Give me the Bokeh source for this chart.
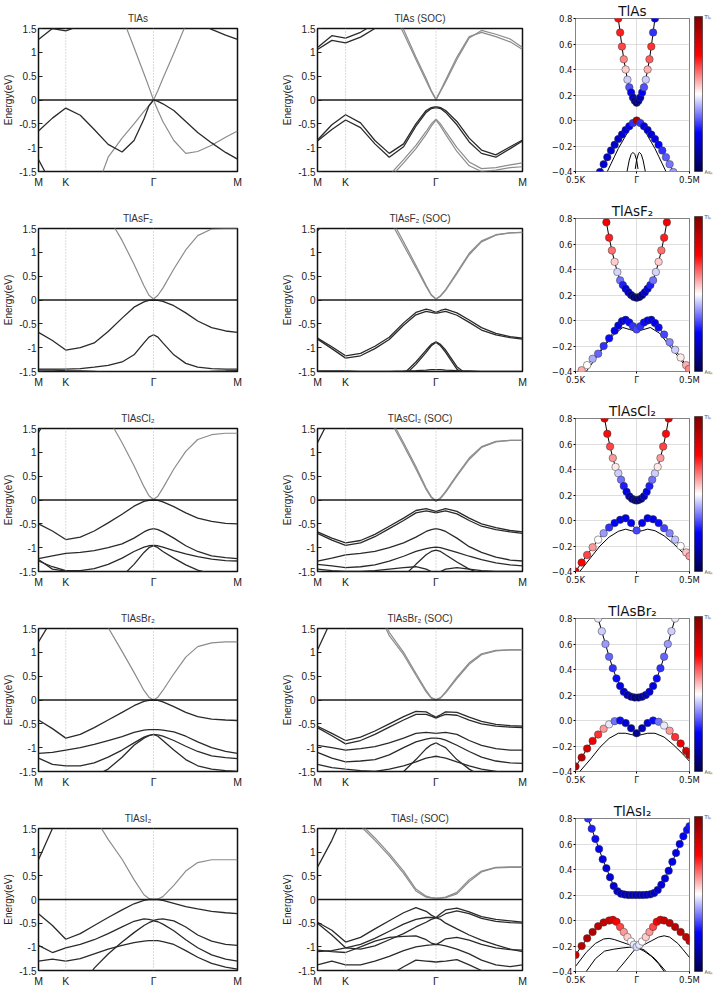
import numpy as np
from bokeh.plotting import figure
from bokeh.layouts import row, column
from bokeh.models import FixedTicker, Span, ColorBar, LinearColorMapper, ColumnDataSource, Range1d
from bokeh.embed import file_html
from bokeh.resources import INLINE

# ------------------------------------------------------------------ data
# k-path sample positions (M - K - Gamma - M), shared by band panels
KX = [0.0, 0.07, 0.137, 0.21, 0.28, 0.35, 0.42, 0.48, 0.53, 0.555, 0.578, 0.60, 0.625, 0.68, 0.74, 0.80, 0.87, 0.94, 1.0]
KPATH_POS = [0.0, 0.137, 0.578, 1.0]
KPATH_LABELS = ["M", "K", "Γ", "M"]
E_TICKS = [-1.5, -1.0, -0.5, 0.0, 0.5, 1.0, 1.5]
E_LABELS = ["-1.5", "-1", "-0.5", "0", "0.5", "1", "1.5"]

FAT_K_TICKS = [-0.667, 0.0, 0.577]
FAT_K_LABELS = ["0.5K", "Γ", "0.5M"]
FAT_E_TICKS = [-0.4, -0.2, 0.0, 0.2, 0.4, 0.6, 0.8]
FAT_E_LABELS = ["−0.4", "−0.2", "0.0", "0.2", "0.4", "0.6", "0.8"]

TITLES = ["TlAs", "TlAsF₂", "TlAsCl₂", "TlAsBr₂", "TlAsI₂"]
TITLES_SOC = ["TlAs (SOC)", "TlAsF₂ (SOC)", "TlAsCl₂ (SOC)", "TlAsBr₂ (SOC)", "TlAsI₂ (SOC)"]

# ---- TlAs (no SOC)
TLAS_GREY = [
    [-3.0, -3.0, -3.0, -3.0, -2.00, -1.20, -0.80, -0.50, -0.24, -0.12, 0.00, 0.20, 0.45, 0.98, 1.58, 2.20, 2.50, 2.50, 2.50],
    [2.50, 2.50, 2.50, 2.50, 2.50, 2.50, 1.75, 1.10, 0.55, 0.27, 0.00, -0.22, -0.45, -0.85, -1.12, -1.08, -0.95, -0.78, -0.65],
]
TLAS_DARK = [
    [-0.65, -0.38, -0.17, -0.32, -0.62, -0.93, -1.09, -0.85, -0.40, -0.12, 0.00, -0.03, -0.08, -0.22, -0.45, -0.68, -0.90, -1.10, -1.24],
    [1.27, 1.50, 1.45, 1.56, 1.75, 2.00, 2.20, 2.30, 2.40, 2.40, 2.40, 2.40, 2.40, 2.30, 2.00, 1.62, 1.48, 1.36, 1.27],
    [-1.25, -1.80, -2.50, -3.0, -3.0, -3.0, -3.0, -3.0, -3.0, -3.0, -3.0, -3.0, -3.0, -3.0, -3.0, -3.0, -3.0, -3.0, -3.0],
]
# ---- TlAs (SOC)
TLAS_SOC_GREY = [
    [3.0, 3.0, 3.0, 3.0, 3.0, 2.00, 1.40, 0.85, 0.40, 0.18, 0.00, 0.18, 0.38, 0.85, 1.30, 1.46, 1.38, 1.28, 1.10],
    [3.0, 3.0, 3.0, 3.0, 3.0, 2.10, 1.48, 0.90, 0.45, 0.20, 0.02, 0.20, 0.42, 0.90, 1.33, 1.42, 1.33, 1.22, 1.06],
    [-3.0, -3.0, -3.0, -3.0, -2.00, -1.58, -1.25, -0.95, -0.66, -0.50, -0.40, -0.50, -0.66, -1.00, -1.30, -1.44, -1.42, -1.36, -1.32],
    [-3.0, -3.0, -3.0, -3.0, -2.10, -1.65, -1.32, -1.02, -0.72, -0.55, -0.42, -0.55, -0.72, -1.08, -1.38, -1.50, -1.47, -1.42, -1.40],
]
TLAS_SOC_DARK = [
    [1.10, 1.35, 1.30, 1.42, 1.60, 2.00, 3.0, 3.0, 3.0, 3.0, 3.0, 3.0, 3.0, 3.0, 3.0, 3.0, 3.0, 3.0, 3.0],
    [1.06, 1.25, 1.20, 1.32, 1.50, 1.75, 2.20, 3.0, 3.0, 3.0, 3.0, 3.0, 3.0, 3.0, 3.0, 3.0, 3.0, 3.0, 3.0],
    [-0.84, -0.52, -0.31, -0.48, -0.85, -1.12, -0.92, -0.50, -0.22, -0.16, -0.14, -0.16, -0.22, -0.45, -0.80, -1.05, -1.15, -0.98, -0.84],
    [-0.86, -0.62, -0.42, -0.58, -0.92, -1.20, -0.98, -0.55, -0.26, -0.18, -0.16, -0.18, -0.26, -0.52, -0.88, -1.12, -1.20, -1.02, -0.86],
]
# ---- TlAsF2
TLASF2_GREY = [
    [3.0, 3.0, 3.0, 3.0, 2.20, 1.75, 1.25, 0.75, 0.30, 0.10, 0.02, 0.10, 0.25, 0.65, 1.05, 1.35, 1.49, 1.50, 1.50],
]
TLASF2_DARK = [
    [-0.68, -0.85, -1.05, -1.00, -0.90, -0.66, -0.38, -0.15, -0.04, -0.01, 0.00, -0.01, -0.03, -0.12, -0.27, -0.44, -0.58, -0.65, -0.68],
    [-1.45, -1.45, -1.45, -1.44, -1.41, -1.37, -1.30, -1.15, -0.90, -0.78, -0.73, -0.78, -0.90, -1.15, -1.33, -1.41, -1.44, -1.45, -1.45],
    [-1.47, -1.47, -1.48, -1.49, -1.50, -1.52, -1.55, -1.60, -1.62, -1.62, -1.62, -1.62, -1.62, -1.60, -1.55, -1.52, -1.50, -1.49, -1.48],
]
TLASF2_SOC_GREY = [
    [3.0, 3.0, 3.0, 3.0, 2.20, 1.70, 1.15, 0.68, 0.28, 0.10, 0.02, 0.08, 0.20, 0.55, 0.95, 1.22, 1.36, 1.41, 1.42],
    [3.0, 3.0, 3.0, 3.0, 2.30, 1.78, 1.22, 0.73, 0.31, 0.11, 0.02, 0.09, 0.22, 0.58, 0.98, 1.24, 1.37, 1.41, 1.42],
]
TLASF2_SOC_DARK = [
    [1.45, 1.80, 3.0, 3.0, 3.0, 3.0, 3.0, 3.0, 3.0, 3.0, 3.0, 3.0, 3.0, 3.0, 3.0, 3.0, 3.0, 3.0, 3.0],
    [-0.80, -0.98, -1.17, -1.12, -0.97, -0.78, -0.48, -0.26, -0.19, -0.22, -0.26, -0.22, -0.19, -0.27, -0.42, -0.58, -0.70, -0.77, -0.80],
    [-0.82, -1.02, -1.22, -1.17, -1.02, -0.83, -0.53, -0.31, -0.24, -0.26, -0.28, -0.26, -0.24, -0.32, -0.47, -0.63, -0.73, -0.79, -0.82],
    [-3.0, -3.0, -3.0, -3.0, -2.00, -1.80, -1.55, -1.30, -1.05, -0.93, -0.88, -0.93, -1.05, -1.40, -1.60, -1.70, -1.70, -1.70, -1.70],
    [-3.0, -3.0, -3.0, -3.0, -2.00, -1.80, -1.60, -1.35, -1.10, -0.96, -0.89, -0.96, -1.10, -1.45, -1.65, -1.70, -1.70, -1.70, -1.70],
    [-1.49, -1.49, -1.49, -1.50, -1.50, -1.50, -1.49, -1.48, -1.47, -1.46, -1.46, -1.46, -1.47, -1.48, -1.49, -1.50, -1.50, -1.50, -1.50],
]
# ---- TlAsCl2
TLASCL2_GREY = [
    [3.0, 3.0, 3.0, 3.0, 2.20, 1.72, 1.20, 0.72, 0.28, 0.09, 0.01, 0.08, 0.25, 0.65, 1.02, 1.27, 1.37, 1.40, 1.40],
]
TLASCL2_DARK = [
    [1.42, 1.90, 3.0, 3.0, 3.0, 3.0, 3.0, 3.0, 3.0, 3.0, 3.0, 3.0, 3.0, 3.0, 3.0, 3.0, 3.0, 3.0, 3.0],
    [-0.50, -0.65, -0.83, -0.78, -0.65, -0.48, -0.30, -0.13, -0.03, -0.01, 0.00, -0.01, -0.04, -0.14, -0.27, -0.38, -0.45, -0.49, -0.50],
    [-1.23, -1.17, -1.12, -1.10, -1.06, -1.00, -0.92, -0.80, -0.67, -0.62, -0.60, -0.62, -0.67, -0.80, -0.96, -1.08, -1.17, -1.21, -1.23],
    [-1.28, -1.40, -1.48, -1.48, -1.44, -1.35, -1.22, -1.08, -0.99, -0.96, -0.95, -0.96, -0.99, -1.06, -1.13, -1.19, -1.24, -1.27, -1.28],
    [-3.0, -3.0, -3.0, -3.0, -3.0, -2.20, -1.60, -1.35, -1.10, -1.00, -0.96, -1.00, -1.08, -1.22, -1.36, -1.47, -1.55, -1.60, -1.60],
    [-1.25, -1.45, -1.49, -1.50, -1.52, -1.60, -3.0, -3.0, -3.0, -3.0, -3.0, -3.0, -3.0, -3.0, -3.0, -3.0, -3.0, -3.0, -3.0],
]
TLASCL2_SOC_GREY = [
    [3.0, 3.0, 3.0, 3.0, 2.20, 1.70, 1.15, 0.65, 0.22, 0.05, -0.03, 0.03, 0.16, 0.50, 0.85, 1.10, 1.22, 1.25, 1.25],
    [3.0, 3.0, 3.0, 3.0, 2.30, 1.76, 1.20, 0.70, 0.25, 0.07, -0.02, 0.05, 0.18, 0.53, 0.88, 1.12, 1.23, 1.25, 1.25],
]
TLASCL2_SOC_DARK = [
    [1.20, 1.80, 3.0, 3.0, 3.0, 3.0, 3.0, 3.0, 3.0, 3.0, 3.0, 3.0, 3.0, 3.0, 3.0, 3.0, 3.0, 3.0, 3.0],
    [-0.67, -0.80, -0.90, -0.85, -0.72, -0.55, -0.38, -0.22, -0.18, -0.21, -0.24, -0.21, -0.18, -0.24, -0.38, -0.50, -0.58, -0.64, -0.67],
    [-0.70, -0.84, -0.95, -0.90, -0.77, -0.60, -0.43, -0.27, -0.23, -0.25, -0.27, -0.25, -0.23, -0.29, -0.43, -0.55, -0.62, -0.67, -0.70],
    [-1.28, -1.22, -1.15, -1.12, -1.08, -1.00, -0.90, -0.78, -0.66, -0.62, -0.60, -0.62, -0.66, -0.80, -0.98, -1.10, -1.20, -1.26, -1.28],
    [-1.35, -1.38, -1.42, -1.40, -1.36, -1.28, -1.18, -1.08, -1.02, -1.00, -0.99, -1.00, -1.03, -1.10, -1.18, -1.25, -1.32, -1.36, -1.38],
    [-3.0, -3.0, -3.0, -3.0, -3.0, -2.00, -1.60, -1.35, -1.15, -1.08, -1.05, -1.08, -1.15, -1.30, -1.45, -1.55, -1.60, -1.60, -1.60],
    [-1.45, -1.48, -1.50, -1.50, -1.48, -1.45, -1.42, -1.40, -1.45, -1.50, -1.55, -1.50, -1.45, -1.42, -1.45, -1.48, -1.50, -1.50, -1.50],
]
# ---- TlAsBr2
TLASBR2_GREY = [
    [3.0, 3.0, 3.0, 3.0, 2.00, 1.52, 1.02, 0.58, 0.20, 0.06, 0.00, 0.06, 0.20, 0.55, 0.90, 1.12, 1.20, 1.22, 1.22],
]
TLASBR2_DARK = [
    [1.22, 1.70, 3.0, 3.0, 3.0, 3.0, 3.0, 3.0, 3.0, 3.0, 3.0, 3.0, 3.0, 3.0, 3.0, 3.0, 3.0, 3.0, 3.0],
    [-0.42, -0.60, -0.80, -0.72, -0.58, -0.42, -0.26, -0.12, -0.03, -0.01, 0.00, -0.01, -0.04, -0.14, -0.26, -0.35, -0.40, -0.42, -0.43],
    [-1.12, -1.10, -1.05, -1.00, -0.93, -0.85, -0.77, -0.68, -0.63, -0.62, -0.62, -0.62, -0.63, -0.67, -0.76, -0.88, -1.00, -1.08, -1.12],
    [-1.22, -1.35, -1.38, -1.38, -1.32, -1.20, -1.05, -0.90, -0.78, -0.74, -0.72, -0.73, -0.76, -0.85, -0.97, -1.08, -1.17, -1.21, -1.23],
    [-3.0, -3.0, -3.0, -3.0, -1.60, -1.45, -1.20, -0.95, -0.80, -0.75, -0.72, -0.76, -0.85, -1.05, -1.25, -1.38, -1.45, -1.48, -1.50],
]
TLASBR2_SOC_GREY = [
    [3.0, 3.0, 3.0, 3.0, 2.00, 1.35, 0.95, 0.52, 0.17, 0.04, 0.00, 0.04, 0.15, 0.45, 0.75, 0.95, 1.03, 1.05, 1.05],
    [3.0, 3.0, 3.0, 3.0, 2.10, 1.42, 1.00, 0.56, 0.20, 0.05, 0.01, 0.05, 0.17, 0.48, 0.78, 0.97, 1.04, 1.05, 1.05],
]
TLASBR2_SOC_DARK = [
    [1.05, 1.70, 3.0, 3.0, 3.0, 3.0, 3.0, 3.0, 3.0, 3.0, 3.0, 3.0, 3.0, 3.0, 3.0, 3.0, 3.0, 3.0, 3.0],
    [-0.55, -0.70, -0.85, -0.78, -0.65, -0.50, -0.35, -0.24, -0.25, -0.31, -0.36, -0.31, -0.25, -0.26, -0.36, -0.45, -0.51, -0.54, -0.55],
    [-0.58, -0.75, -0.92, -0.85, -0.72, -0.57, -0.42, -0.30, -0.30, -0.34, -0.38, -0.34, -0.30, -0.32, -0.42, -0.50, -0.55, -0.57, -0.58],
    [-0.95, -1.00, -1.05, -1.02, -0.98, -0.90, -0.80, -0.70, -0.68, -0.69, -0.70, -0.69, -0.68, -0.72, -0.85, -0.95, -1.02, -1.05, -1.05],
    [-1.10, -1.22, -1.30, -1.28, -1.25, -1.15, -1.00, -0.88, -0.82, -0.80, -0.80, -0.81, -0.84, -0.95, -1.08, -1.20, -1.28, -1.32, -1.33],
    [-3.0, -3.0, -3.0, -3.0, -2.00, -1.70, -1.50, -1.25, -1.02, -0.94, -0.90, -0.95, -1.00, -1.25, -1.45, -1.60, -1.70, -1.70, -1.70],
    [-1.35, -1.42, -1.45, -1.48, -1.50, -1.45, -1.38, -1.30, -1.22, -1.20, -1.18, -1.20, -1.22, -1.30, -1.38, -1.45, -1.50, -1.55, -1.55],
]
# ---- TlAsI2
TLASI2_GREY = [
    [3.0, 3.0, 3.0, 3.0, 1.75, 1.27, 0.85, 0.42, 0.10, 0.02, 0.00, 0.01, 0.06, 0.30, 0.60, 0.78, 0.84, 0.84, 0.84],
]
TLASI2_DARK = [
    [0.84, 1.50, 2.20, 3.0, 3.0, 3.0, 3.0, 3.0, 3.0, 3.0, 3.0, 3.0, 3.0, 3.0, 3.0, 3.0, 3.0, 3.0, 3.0],
    [-0.30, -0.55, -0.84, -0.72, -0.55, -0.38, -0.22, -0.09, -0.02, 0.00, 0.00, 0.00, -0.02, -0.08, -0.15, -0.20, -0.25, -0.28, -0.30],
    [-0.97, -1.12, -1.02, -0.95, -0.85, -0.72, -0.58, -0.46, -0.41, -0.42, -0.44, -0.42, -0.41, -0.45, -0.58, -0.75, -0.88, -0.95, -0.97],
    [-3.0, -3.0, -3.0, -1.90, -1.45, -1.15, -0.90, -0.70, -0.55, -0.49, -0.45, -0.47, -0.52, -0.66, -0.85, -1.02, -1.17, -1.26, -1.30],
    [-1.30, -1.26, -1.30, -1.25, -1.15, -1.05, -0.97, -0.91, -0.88, -0.87, -0.87, -0.87, -0.89, -0.95, -1.08, -1.22, -1.35, -1.43, -1.47],
]
TLASI2_SOC_GREY = [
    [3.0, 3.0, 1.90, 1.55, 1.25, 0.92, 0.55, 0.18, 0.05, 0.035, 0.03, 0.03, 0.04, 0.12, 0.38, 0.58, 0.67, 0.68, 0.68],
    [3.0, 3.0, 1.95, 1.60, 1.30, 0.97, 0.60, 0.22, 0.07, 0.04, 0.03, 0.035, 0.05, 0.15, 0.42, 0.60, 0.68, 0.69, 0.69],
]
TLASI2_SOC_DARK = [
    [0.68, 1.25, 1.90, 3.0, 3.0, 3.0, 3.0, 3.0, 3.0, 3.0, 3.0, 3.0, 3.0, 3.0, 3.0, 3.0, 3.0, 3.0, 3.0],
    [-0.48, -0.65, -0.90, -0.80, -0.62, -0.45, -0.28, -0.17, -0.25, -0.33, -0.38, -0.30, -0.22, -0.18, -0.26, -0.36, -0.42, -0.45, -0.48],
    [-0.50, -0.75, -1.02, -0.95, -0.82, -0.67, -0.52, -0.42, -0.38, -0.38, -0.39, -0.36, -0.30, -0.24, -0.30, -0.40, -0.46, -0.49, -0.50],
    [-1.10, -1.08, -1.02, -1.05, -0.98, -0.85, -0.72, -0.58, -0.48, -0.42, -0.39, -0.42, -0.50, -0.62, -0.75, -0.86, -0.96, -1.05, -1.10],
    [-1.07, -1.10, -1.12, -1.00, -0.88, -0.80, -0.78, -0.77, -0.85, -0.92, -0.95, -0.90, -0.83, -0.80, -0.86, -0.95, -1.02, -1.06, -1.07],
    [-1.38, -1.30, -1.38, -1.38, -1.30, -1.20, -1.08, -1.00, -0.97, -0.96, -0.95, -0.96, -0.98, -1.05, -1.15, -1.28, -1.38, -1.42, -1.38],
    [-3.0, -3.0, -3.0, -3.0, -2.00, -1.60, -1.42, -1.28, -1.30, -1.31, -1.32, -1.31, -1.30, -1.27, -1.38, -1.50, -1.60, -1.70, -1.70],
]

# ---- projected (fat) bands near Gamma: k, energy, Tl_p weight (0 = As_p, 1 = Tl_p)
TLAS_FCB_K = [-0.20, -0.18, -0.16, -0.14, -0.12, -0.10, -0.08, -0.06, -0.04, -0.02, 0.0, 0.02, 0.04, 0.06, 0.08, 0.10, 0.12, 0.14, 0.16, 0.18, 0.20]
TLAS_FCB_E = [0.80, 0.69, 0.58, 0.48, 0.40, 0.32, 0.26, 0.22, 0.18, 0.155, 0.14, 0.155, 0.18, 0.22, 0.26, 0.32, 0.40, 0.48, 0.58, 0.69, 0.80]
TLAS_FCB_W = [0.74, 0.72, 0.68, 0.62, 0.55, 0.45, 0.33, 0.24, 0.17, 0.10, 0.04, 0.10, 0.17, 0.24, 0.33, 0.45, 0.58, 0.66, 0.70, 0.30, 0.24]
TLAS_FVB_K = [-0.40, -0.36, -0.32, -0.28, -0.24, -0.20, -0.16, -0.12, -0.08, -0.04, 0.0, 0.04, 0.08, 0.12, 0.16, 0.20, 0.24, 0.28, 0.32, 0.36, 0.40]
TLAS_FVB_E = [-0.404, -0.343, -0.288, -0.236, -0.19, -0.146, -0.11, -0.075, -0.045, -0.02, 0.0, -0.02, -0.045, -0.075, -0.11, -0.146, -0.19, -0.236, -0.288, -0.343, -0.404]
TLAS_FVB_W = [0.20, 0.20, 0.19, 0.18, 0.18, 0.18, 0.19, 0.20, 0.22, 0.30, 0.92, 0.30, 0.22, 0.20, 0.20, 0.22, 0.25, 0.30, 0.34, 0.37, 0.40]
TLAS_FL1_K = [-0.32, -0.28, -0.24, -0.20, -0.16, -0.12, -0.08, -0.04, 0.0, 0.04, 0.08, 0.12, 0.16, 0.20, 0.24, 0.28, 0.32]
TLAS_FL1_E = [-0.40, -0.34, -0.28, -0.22, -0.17, -0.12, -0.07, -0.03, 0.0, -0.03, -0.07, -0.12, -0.17, -0.22, -0.28, -0.34, -0.40]
TLAS_FL2_K = [-0.105, -0.08, -0.06, -0.04, -0.02, 0.0, 0.015]
TLAS_FL2_E = [-0.40, -0.31, -0.265, -0.25, -0.265, -0.31, -0.38]
TLAS_FL3_K = [-0.015, 0.0, 0.02, 0.03, 0.05, 0.07, 0.095]
TLAS_FL3_E = [-0.38, -0.31, -0.26, -0.25, -0.265, -0.31, -0.40]

TLASF2_FCB_K = [-0.33, -0.30, -0.27, -0.24, -0.21, -0.18, -0.15, -0.12, -0.09, -0.06, -0.03, 0.0, 0.03, 0.06, 0.09, 0.12, 0.15, 0.18, 0.21, 0.24, 0.27, 0.30, 0.33]
TLASF2_FCB_E = [0.77, 0.65, 0.55, 0.46, 0.38, 0.315, 0.278, 0.25, 0.222, 0.20, 0.185, 0.178, 0.185, 0.20, 0.222, 0.25, 0.278, 0.315, 0.38, 0.46, 0.55, 0.65, 0.77]
TLASF2_FCB_W = [0.78, 0.72, 0.64, 0.55, 0.46, 0.36, 0.28, 0.22, 0.18, 0.12, 0.08, 0.05, 0.08, 0.12, 0.18, 0.22, 0.28, 0.36, 0.46, 0.55, 0.64, 0.72, 0.78]
TLASF2_FVB_K = [-0.60, -0.54, -0.48, -0.42, -0.36, -0.30, -0.24, -0.20, -0.16, -0.12, -0.08, -0.04, 0.0, 0.04, 0.08, 0.12, 0.16, 0.20, 0.24, 0.30, 0.36, 0.42, 0.48, 0.54, 0.57]
TLASF2_FVB_E = [-0.39, -0.35, -0.30, -0.26, -0.20, -0.14, -0.08, -0.04, -0.005, 0.005, -0.015, -0.045, -0.07, -0.045, -0.015, 0.0, 0.005, -0.02, -0.055, -0.11, -0.17, -0.23, -0.29, -0.35, -0.38]
TLASF2_FVB_W = [0.58, 0.50, 0.42, 0.35, 0.30, 0.26, 0.23, 0.22, 0.22, 0.23, 0.26, 0.30, 0.32, 0.30, 0.26, 0.23, 0.22, 0.23, 0.26, 0.32, 0.38, 0.45, 0.52, 0.58, 0.62]
TLASF2_FL1_K = [-0.55, -0.45, -0.35, -0.25, -0.15, -0.08, 0.0, 0.08, 0.15, 0.25, 0.35, 0.45, 0.577]
TLASF2_FL1_E = [-0.40, -0.30, -0.20, -0.11, -0.055, -0.07, -0.085, -0.07, -0.055, -0.10, -0.19, -0.28, -0.40]

TLASCL2_FCB_K = [-0.35, -0.32, -0.29, -0.26, -0.23, -0.20, -0.17, -0.14, -0.11, -0.08, -0.05, -0.02, 0.0, 0.02, 0.05, 0.08, 0.11, 0.14, 0.17, 0.20, 0.23, 0.26, 0.29, 0.32, 0.35]
TLASCL2_FCB_E = [0.80, 0.68, 0.58, 0.49, 0.42, 0.37, 0.32, 0.27, 0.225, 0.19, 0.17, 0.16, 0.157, 0.16, 0.17, 0.19, 0.225, 0.27, 0.32, 0.37, 0.42, 0.49, 0.58, 0.68, 0.80]
TLASCL2_FCB_W = [0.80, 0.74, 0.68, 0.60, 0.52, 0.45, 0.36, 0.28, 0.22, 0.16, 0.10, 0.06, 0.04, 0.06, 0.10, 0.16, 0.22, 0.28, 0.36, 0.45, 0.52, 0.60, 0.68, 0.74, 0.80]
TLASCL2_FVB_K = [-0.667, -0.60, -0.54, -0.48, -0.42, -0.36, -0.30, -0.24, -0.18, -0.12, -0.06, 0.0, 0.06, 0.12, 0.18, 0.24, 0.30, 0.36, 0.42, 0.48, 0.54, 0.577]
TLASCL2_FVB_E = [-0.40, -0.33, -0.27, -0.21, -0.15, -0.10, -0.055, -0.02, 0.005, 0.018, -0.02, -0.078, -0.02, 0.018, 0.01, -0.02, -0.06, -0.10, -0.15, -0.20, -0.25, -0.28]
TLASCL2_FVB_W = [0.80, 0.75, 0.68, 0.60, 0.50, 0.40, 0.30, 0.24, 0.22, 0.22, 0.24, 0.32, 0.24, 0.22, 0.22, 0.26, 0.32, 0.38, 0.44, 0.50, 0.56, 0.60]
TLASCL2_FL1_K = [-0.62, -0.50, -0.40, -0.30, -0.20, -0.12, -0.06, 0.0, 0.06, 0.12, 0.20, 0.30, 0.40, 0.50, 0.577]
TLASCL2_FL1_E = [-0.40, -0.29, -0.20, -0.13, -0.085, -0.068, -0.08, -0.09, -0.08, -0.068, -0.08, -0.12, -0.18, -0.25, -0.31]

TLASBR2_FCB_K = [-0.42, -0.38, -0.34, -0.30, -0.26, -0.22, -0.18, -0.14, -0.10, -0.06, -0.02, 0.02, 0.06, 0.10, 0.14, 0.18, 0.22, 0.26, 0.30, 0.34, 0.38, 0.42]
TLASBR2_FCB_E = [0.80, 0.70, 0.60, 0.50, 0.41, 0.33, 0.27, 0.225, 0.20, 0.187, 0.18, 0.18, 0.187, 0.20, 0.225, 0.27, 0.33, 0.41, 0.50, 0.60, 0.70, 0.80]
TLASBR2_FCB_W = [0.48, 0.45, 0.40, 0.35, 0.30, 0.26, 0.22, 0.20, 0.17, 0.12, 0.08, 0.08, 0.12, 0.17, 0.20, 0.22, 0.26, 0.30, 0.35, 0.40, 0.45, 0.48]
TLASBR2_FVB_K = [-0.667, -0.60, -0.54, -0.48, -0.42, -0.36, -0.30, -0.24, -0.18, -0.12, -0.06, 0.0, 0.06, 0.12, 0.18, 0.24, 0.30, 0.36, 0.42, 0.48, 0.54, 0.577]
TLASBR2_FVB_E = [-0.36, -0.29, -0.22, -0.16, -0.11, -0.065, -0.03, -0.005, 0.0, -0.02, -0.06, -0.10, -0.06, -0.02, 0.0, -0.01, -0.04, -0.08, -0.13, -0.18, -0.24, -0.27]
TLASBR2_FVB_W = [0.90, 0.88, 0.84, 0.78, 0.70, 0.60, 0.48, 0.36, 0.26, 0.20, 0.15, 0.10, 0.15, 0.20, 0.26, 0.36, 0.48, 0.60, 0.70, 0.78, 0.84, 0.87]
TLASBR2_FL1_K = [-0.62, -0.50, -0.40, -0.30, -0.20, -0.12, -0.06, 0.0, 0.06, 0.12, 0.20, 0.30, 0.40, 0.50, 0.577]
TLASBR2_FL1_E = [-0.40, -0.30, -0.21, -0.14, -0.10, -0.10, -0.11, -0.12, -0.11, -0.10, -0.10, -0.13, -0.19, -0.26, -0.32]

TLASI2_FCB_K = [-0.53, -0.49, -0.45, -0.41, -0.37, -0.33, -0.29, -0.25, -0.21, -0.17, -0.13, -0.09, -0.05, -0.01, 0.03, 0.07, 0.11, 0.15, 0.19, 0.23, 0.27, 0.31, 0.35, 0.39, 0.43, 0.47, 0.51, 0.55, 0.577]
TLASI2_FCB_E = [0.80, 0.72, 0.64, 0.56, 0.48, 0.41, 0.34, 0.27, 0.23, 0.21, 0.203, 0.20, 0.20, 0.20, 0.20, 0.20, 0.201, 0.205, 0.215, 0.24, 0.28, 0.33, 0.39, 0.46, 0.53, 0.60, 0.66, 0.71, 0.74]
TLASI2_FCB_W = [0.30, 0.28, 0.26, 0.24, 0.22, 0.20, 0.20, 0.19, 0.18, 0.17, 0.16, 0.15, 0.15, 0.15, 0.15, 0.15, 0.16, 0.17, 0.18, 0.19, 0.20, 0.20, 0.21, 0.22, 0.23, 0.24, 0.25, 0.26, 0.27]
TLASI2_FVB_K = [-0.667, -0.60, -0.54, -0.48, -0.42, -0.36, -0.30, -0.26, -0.22, -0.18, -0.14, -0.10, -0.06, -0.03, 0.0, 0.03, 0.06, 0.10, 0.14, 0.18, 0.22, 0.26, 0.30, 0.36, 0.42, 0.48, 0.54, 0.577]
TLASI2_FVB_E = [-0.27, -0.20, -0.14, -0.09, -0.045, -0.015, 0.0, 0.005, -0.01, -0.05, -0.09, -0.13, -0.165, -0.19, -0.207, -0.19, -0.165, -0.13, -0.09, -0.05, -0.01, 0.005, 0.0, -0.02, -0.05, -0.09, -0.13, -0.16]
TLASI2_FVB_W = [0.85, 0.88, 0.90, 0.90, 0.88, 0.86, 0.84, 0.80, 0.75, 0.68, 0.60, 0.55, 0.50, 0.48, 0.46, 0.48, 0.50, 0.55, 0.60, 0.68, 0.75, 0.80, 0.84, 0.86, 0.88, 0.88, 0.86, 0.85]
TLASI2_FL1_K = [-0.667, -0.55, -0.45, -0.36, -0.30, -0.24, -0.16, -0.08, 0.0, 0.08, 0.16, 0.24, 0.30, 0.36, 0.45, 0.52, 0.577]
TLASI2_FL1_E = [-0.36, -0.25, -0.18, -0.145, -0.14, -0.15, -0.17, -0.19, -0.21, -0.19, -0.16, -0.13, -0.12, -0.13, -0.18, -0.24, -0.29]
TLASI2_FL2_K = [-0.55, -0.45, -0.35, -0.25, -0.15, -0.08, 0.0, 0.08, 0.16, 0.24, 0.30]
TLASI2_FL2_E = [-0.40, -0.30, -0.24, -0.225, -0.215, -0.21, -0.21, -0.24, -0.28, -0.34, -0.40]
TLASI2_FL3_K = [-0.22, -0.16, -0.08, 0.0, 0.08, 0.20, 0.32]
TLASI2_FL3_E = [-0.40, -0.35, -0.28, -0.21, -0.23, -0.30, -0.40]

# ------------------------------------------------------------------ style
ROW_HEIGHTS = [200, 200, 200, 200, 189]
W_A, W_B, W_C = 275, 273, 168
BAND_TOP, FAT_TOP = 28, 16
BAND_FRAME, FAT_FRAME = 143, 155
BAND_FONT = "Liberation Sans"
FAT_FONT = "DejaVu Sans"


def seismic(n=256):
    stops = [0.0, 0.25, 0.5, 0.75, 1.0]
    r = [0.0, 0.0, 1.0, 1.0, 0.5]
    g = [0.0, 0.0, 1.0, 0.0, 0.0]
    b = [0.3, 1.0, 1.0, 0.0, 0.0]
    t = np.linspace(0, 1, n)
    rr, gg, bb = (np.interp(t, stops, c) for c in (r, g, b))
    return ["#%02x%02x%02x" % (int(round(a * 255)), int(round(c * 255)), int(round(d * 255)))
            for a, c, d in zip(rr, gg, bb)]


PALETTE = seismic()
EPS = 1e-9


def band_fig(title, grey, dark, width, left, right, height):
    p = figure(width=width, height=height,
               x_range=Range1d(KPATH_POS[0] - EPS, KPATH_POS[-1] + EPS),
               y_range=Range1d(E_TICKS[0] - EPS, E_TICKS[-1] + EPS),
               output_backend="svg", toolbar_location=None, title=title,
               frame_align=False,
               min_border_left=left, min_border_right=right,
               min_border_top=BAND_TOP, min_border_bottom=height - BAND_TOP - BAND_FRAME)
    p.title.align = "center"
    p.title.text_font = BAND_FONT
    p.title.text_font_size = "10px"
    p.title.text_font_style = "normal"
    p.title.text_color = "#333333"
    p.title.standoff = 10
    p.grid.visible = False
    p.outline_line_color = "#111111"
    p.outline_line_width = 1.5
    p.background_fill_color = "white"
    p.border_fill_color = "white"

    p.xaxis.ticker = FixedTicker(ticks=KPATH_POS)
    p.xaxis.major_label_overrides = dict(zip(KPATH_POS, KPATH_LABELS))
    p.xaxis.major_tick_in = 0
    p.xaxis.major_tick_out = 0
    p.xaxis.minor_tick_line_color = None
    p.xaxis.axis_line_color = None
    p.xaxis.major_label_standoff = 4
    p.xaxis.major_label_text_font = BAND_FONT
    p.xaxis.major_label_text_font_size = "10.5px"
    p.xaxis.major_label_text_color = "#222222"

    p.yaxis.ticker = FixedTicker(ticks=E_TICKS)
    p.yaxis.major_label_overrides = dict(zip(E_TICKS, E_LABELS))
    p.yaxis.major_tick_in = 4
    p.yaxis.major_tick_out = 0
    p.yaxis.major_tick_line_color = "#222222"
    p.yaxis.minor_tick_line_color = None
    p.yaxis.axis_line_color = None
    p.yaxis.major_label_standoff = 2
    p.yaxis.major_label_text_font = BAND_FONT
    p.yaxis.major_label_text_font_size = "10px"
    p.yaxis.major_label_text_color = "#222222"
    p.yaxis.axis_label = "Energy(eV)"
    p.yaxis.axis_label_text_font = BAND_FONT
    p.yaxis.axis_label_text_font_size = "10px"
    p.yaxis.axis_label_text_font_style = "normal"
    p.yaxis.axis_label_text_color = "#222222"
    p.yaxis.axis_label_standoff = 2

    for pos in KPATH_POS[1:-1]:
        p.add_layout(Span(location=pos, dimension="height", line_color="#b5b5b5",
                          line_dash="1 2", line_width=1))
    for e in grey:
        p.line(KX, e, line_color="#8c8c8c", line_width=1.2)
    for e in dark:
        p.line(KX, e, line_color="#2a2a2a", line_width=1.3)
    p.add_layout(Span(location=0.0, dimension="width", line_color="#1a1a1a", line_width=1.3))
    return p


def fat_fig(title, height, cbk, cbe, cbw, vbk, vbe, vbw, extra):
    p = figure(width=W_C, height=height,
               x_range=Range1d(FAT_K_TICKS[0] - EPS, FAT_K_TICKS[-1] + EPS),
               y_range=Range1d(FAT_E_TICKS[0] - EPS, FAT_E_TICKS[-1] + EPS),
               output_backend="svg", toolbar_location=None, title=title,
               frame_align=False,
               min_border_left=25, min_border_right=27,
               min_border_top=FAT_TOP, min_border_bottom=height - FAT_TOP - FAT_FRAME)
    p.title.align = "center"
    p.title.text_font = FAT_FONT
    p.title.text_font_size = "13.5px"
    p.title.text_font_style = "normal"
    p.title.text_color = "#111111"
    p.title.standoff = 0
    p.outline_line_color = "#222222"
    p.outline_line_width = 0.8
    p.xgrid.ticker = FixedTicker(ticks=FAT_K_TICKS)
    p.ygrid.ticker = FixedTicker(ticks=FAT_E_TICKS)
    p.grid.grid_line_color = "#d6d6d6"
    p.grid.grid_line_width = 0.8

    for ax, ticks, labels in ((p.xaxis, FAT_K_TICKS, FAT_K_LABELS), (p.yaxis, FAT_E_TICKS, FAT_E_LABELS)):
        ax.ticker = FixedTicker(ticks=ticks)
        ax.major_label_overrides = dict(zip(ticks, labels))
        ax.major_tick_in = 0
        ax.major_tick_out = 2
        ax.minor_tick_line_color = None
        ax.axis_line_color = None
        ax.major_label_standoff = 1
        ax.major_label_text_font = FAT_FONT
        ax.major_label_text_font_size = "8.5px"
        ax.major_label_text_color = "#111111"

    mapper = LinearColorMapper(palette=PALETTE, low=0.0, high=1.0)
    for k, e in extra:
        p.line(k, e, line_color="black", line_width=1.0)
    for k, e, w in ((vbk, vbe, vbw), (cbk, cbe, cbw)):
        p.line(k, e, line_color="black", line_width=1.0)
        src = ColumnDataSource(dict(k=k, e=e, w=w))
        p.scatter("k", "e", source=src, size=7.5,
                  fill_color={"field": "w", "transform": mapper},
                  line_color="#3a3a3a", line_width=0.5)

    cbar = ColorBar(color_mapper=mapper, width=8, height=FAT_FRAME, padding=0, margin=0,
                    location=(5, 0),
                    ticker=FixedTicker(ticks=[0.0, 1.0]),
                    major_label_overrides={0.0: "Asₚ", 1.0: "Tlₚ"},
                    major_label_text_font=FAT_FONT, major_label_text_font_size="5px",
                    major_tick_line_color=None, label_standoff=2,
                    bar_line_color="#222222", bar_line_width=0.6,
                    border_line_color=None, background_fill_color=None)
    p.add_layout(cbar, "right")
    return p


NOSOC = [(TLAS_GREY, TLAS_DARK), (TLASF2_GREY, TLASF2_DARK), (TLASCL2_GREY, TLASCL2_DARK),
         (TLASBR2_GREY, TLASBR2_DARK), (TLASI2_GREY, TLASI2_DARK)]
SOC = [(TLAS_SOC_GREY, TLAS_SOC_DARK), (TLASF2_SOC_GREY, TLASF2_SOC_DARK),
       (TLASCL2_SOC_GREY, TLASCL2_SOC_DARK), (TLASBR2_SOC_GREY, TLASBR2_SOC_DARK),
       (TLASI2_SOC_GREY, TLASI2_SOC_DARK)]
FAT = [
    (TLAS_FCB_K, TLAS_FCB_E, TLAS_FCB_W, TLAS_FVB_K, TLAS_FVB_E, TLAS_FVB_W,
     [(TLAS_FL1_K, TLAS_FL1_E), (TLAS_FL2_K, TLAS_FL2_E), (TLAS_FL3_K, TLAS_FL3_E)]),
    (TLASF2_FCB_K, TLASF2_FCB_E, TLASF2_FCB_W, TLASF2_FVB_K, TLASF2_FVB_E, TLASF2_FVB_W,
     [(TLASF2_FL1_K, TLASF2_FL1_E)]),
    (TLASCL2_FCB_K, TLASCL2_FCB_E, TLASCL2_FCB_W, TLASCL2_FVB_K, TLASCL2_FVB_E, TLASCL2_FVB_W,
     [(TLASCL2_FL1_K, TLASCL2_FL1_E)]),
    (TLASBR2_FCB_K, TLASBR2_FCB_E, TLASBR2_FCB_W, TLASBR2_FVB_K, TLASBR2_FVB_E, TLASBR2_FVB_W,
     [(TLASBR2_FL1_K, TLASBR2_FL1_E)]),
    (TLASI2_FCB_K, TLASI2_FCB_E, TLASI2_FCB_W, TLASI2_FVB_K, TLASI2_FVB_E, TLASI2_FVB_W,
     [(TLASI2_FL1_K, TLASI2_FL1_E), (TLASI2_FL2_K, TLASI2_FL2_E), (TLASI2_FL3_K, TLASI2_FL3_E)]),
]

rows = []
for i in range(5):
    h = ROW_HEIGHTS[i]
    a = band_fig(TITLES[i], NOSOC[i][0], NOSOC[i][1], W_A, 32, 38, h)
    b = band_fig(TITLES_SOC[i], SOC[i][0], SOC[i][1], W_B, 42, 26, h)
    c = fat_fig(TITLES[i], h, *FAT[i])
    rows.append(row(a, b, c))

layout = column(*rows)
open("out.html", "w").write(file_html(layout, INLINE))
